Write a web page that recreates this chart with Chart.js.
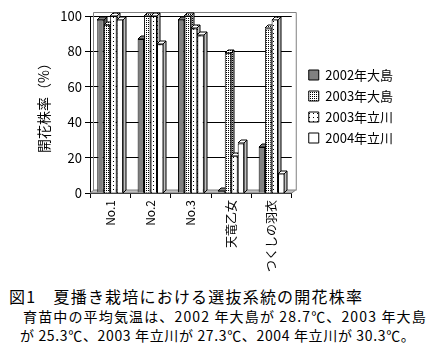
<!DOCTYPE html>
<html>
<head>
<meta charset="utf-8">
<script src="https://cdn.jsdelivr.net/npm/chart.js@4.4.1/dist/chart.umd.min.js"></script>
<style>
  html, body { margin: 0; padding: 0; background: #fff; }
  body { width: 433px; height: 353px; position: relative; overflow: hidden; font-family: "Noto Sans CJK JP", sans-serif; color: #000; }
  #wrap { position: absolute; left: 0; top: 0; width: 433px; height: 282px; }
  .cap { position: absolute; white-space: nowrap; font-family: "Noto Sans CJK JP", sans-serif; }
  #c1 { left: 9px; top: 284px; font-size: 16px; letter-spacing: 1.2px; }
  #c2 { left: 23px; top: 306px; font-size: 14px; letter-spacing: 1.15px; }
  #c3 { left: 20px; top: 325px; font-size: 14px; letter-spacing: 0.65px; }
</style>
</head>
<body>
<div id="wrap"><canvas id="chart"></canvas></div>
<div class="cap" id="c1">図1　夏播き栽培における選抜系統の開花株率</div>
<div class="cap" id="c2">育苗中の平均気温は、2002 年大島が 28.7℃、2003 年大島</div>
<div class="cap" id="c3">が 25.3℃、2003 年立川が 27.3℃、2004 年立川が 30.3℃。</div>
<script>
const categories = ["No.1", "No.2", "No.3", "天竜乙女", "つくしの羽衣"];
const seriesNames = ["2002年大島", "2003年大島", "2003年立川", "2004年立川"];
const oshima2002 = [98, 87, 98, 1, 26];
const oshima2003 = [95, 100, 100, 79, 93];
const tachikawa2003 = [100, 100, 93, 21, 98];
const tachikawa2004 = [98, 84, 89, 28, 11];
const yTicks = [0, 20, 40, 60, 80, 100];
const yTitle = "開花株率（%）";

function makePattern(size, dots, bg) {
  const c = document.createElement('canvas');
  c.width = size; c.height = size;
  const g = c.getContext('2d');
  g.fillStyle = bg; g.fillRect(0, 0, size, size);
  g.fillStyle = '#000';
  dots.forEach(d => g.fillRect(d[0], d[1], 1, 1));
  return g.createPattern(c, 'repeat');
}
const fillDark = '#808080';
const fillDense = makePattern(2, [[0, 0]], '#ffffff');
const fillSparse = makePattern(4, [[1, 1]], '#ffffff');
const fillWhite = '#ffffff';

const DX = 3, DY = 3;
const FONT = '"Noto Sans CJK JP", sans-serif';

const threeD = {
  id: 'threeD',
  afterLayout(chart) {
    const lg = chart.legend;
    if (lg) { lg.left += 9; lg.right += 9; lg.top += 2; lg.bottom += 2; }
  },
  beforeDatasetsDraw(chart) {
    const ctx = chart.ctx, a = chart.chartArea;
    ctx.save();
    // back frame (left wall edge, top, right)
    ctx.strokeStyle = '#808080'; ctx.lineWidth = 1;
    ctx.beginPath();
    ctx.moveTo(a.left + 3.5, a.bottom - 3);
    ctx.lineTo(a.left + 3.5, a.top - 3.5);
    ctx.lineTo(a.right + 4.5, a.top - 3.5);
    ctx.lineTo(a.right + 4.5, a.bottom - 2.5);
    ctx.stroke();
    // floor
    ctx.beginPath();
    ctx.moveTo(a.left, a.bottom);
    ctx.lineTo(a.left + DX + 1, a.bottom - DY);
    ctx.lineTo(a.right + DX + 1, a.bottom - DY);
    ctx.lineTo(a.right, a.bottom);
    ctx.closePath();
    ctx.fillStyle = '#c0c0c0'; ctx.fill();
    ctx.strokeStyle = '#808080'; ctx.stroke();
    // bar extrusions
    chart.data.datasets.forEach((ds, di) => {
      const meta = chart.getDatasetMeta(di);
      meta.data.forEach(el => {
        const p = el.getProps(['x', 'y', 'base', 'width'], true);
        const l = Math.round(p.x - p.width / 2), r = Math.round(p.x + p.width / 2);
        const t = Math.round(p.y), b = Math.round(p.base);
        ctx.fillStyle = ds.backgroundColor;
        ctx.strokeStyle = '#000'; ctx.lineWidth = 1;
        // top cap
        ctx.beginPath();
        ctx.moveTo(l, t); ctx.lineTo(l + DX, t - DY); ctx.lineTo(r + DX, t - DY); ctx.lineTo(r, t); ctx.closePath();
        ctx.fill(); ctx.stroke();
        // right side
        ctx.beginPath();
        ctx.moveTo(r, t); ctx.lineTo(r + DX, t - DY); ctx.lineTo(r + DX, b - DY); ctx.lineTo(r, b); ctx.closePath();
        ctx.fill();
        ctx.fillStyle = 'rgba(0,0,0,0.25)'; ctx.fill();
        ctx.stroke();
      });
    });
    ctx.restore();
  }
};

const chart = new Chart(document.getElementById('chart'), {
  type: 'bar',
  data: {
    labels: categories,
    datasets: [
      { label: seriesNames[0], data: oshima2002, backgroundColor: fillDark },
      { label: seriesNames[1], data: oshima2003, backgroundColor: fillDense },
      { label: seriesNames[2], data: tachikawa2003, backgroundColor: fillSparse },
      { label: seriesNames[3], data: tachikawa2004, backgroundColor: fillWhite }
    ].map(d => Object.assign(d, { borderColor: '#000', borderWidth: 1, categoryPercentage: 0.64, barPercentage: 1.0 }))
  },
  options: {
    responsive: true,
    maintainAspectRatio: false,
    animation: false,
    devicePixelRatio: 1,
    layout: { padding: { top: 16, left: 0, right: 44, bottom: 0 } },
    plugins: {
      legend: {
        position: 'right',
        fullSize: false,
        align: 'center',
        labels: {
          boxWidth: 10, boxHeight: 10, padding: 8,
          color: '#000',
          font: { family: FONT, size: 13 }
        }
      },
      tooltip: { enabled: false }
    },
    scales: {
      x: {
        border: { display: true, color: '#000', width: 1 },
        grid: { display: true, offset: true, drawOnChartArea: false, drawTicks: true, tickLength: 5, tickColor: '#000' },
        ticks: { color: '#000', minRotation: 90, maxRotation: 90, padding: 2, font: { family: FONT, size: 12 } },
        afterFit(s) { s.height = 282 - 193; }
      },
      y: {
        min: 0, max: 100,
        border: { display: true, color: '#000', width: 1 },
        grid: {
          color: c => (c.tick && c.tick.value > 0 && yTicks.includes(c.tick.value)) ? '#000' : 'rgba(0,0,0,0)',
          tickColor: '#000', tickLength: 5, drawTicks: true
        },
        ticks: {
          stepSize: 10,
          color: '#000',
          padding: 3,
          font: { family: FONT, size: 13 },
          callback: v => yTicks.includes(v) ? String(v) : ''
        },
        title: { display: true, text: yTitle, color: '#000', font: { family: FONT, size: 14 }, padding: { top: 35, bottom: 0 } },
        afterFit(s) { s.width = 90; }
      }
    }
  },
  plugins: [threeD]
});
</script>
</body>
</html>
